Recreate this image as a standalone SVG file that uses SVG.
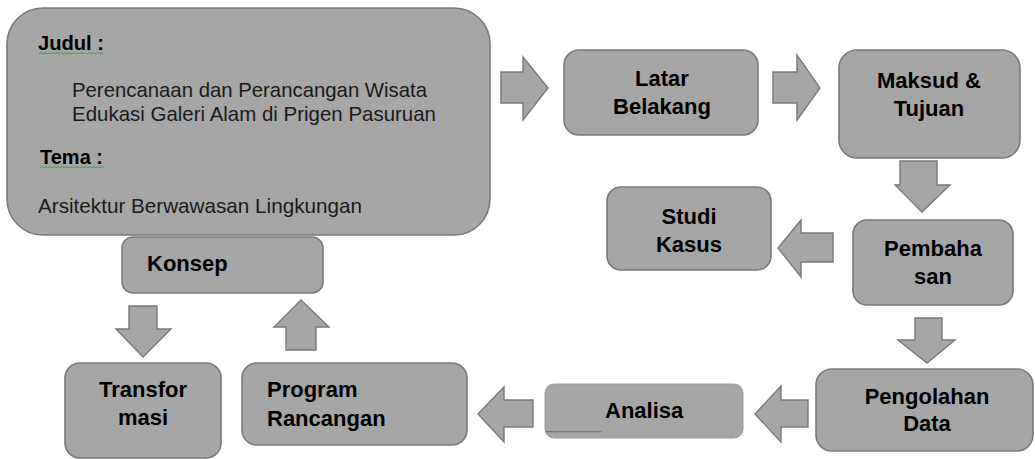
<svg xmlns="http://www.w3.org/2000/svg" width="1035" height="459" viewBox="0 0 1035 459">
<style>
  .box { fill: #a6a6a6; stroke: #7a7a7a; stroke-width: 1.6; }
  .arr { fill: #a6a6a6; stroke: #7a7a7a; stroke-width: 1.4; stroke-linejoin: miter; }
  .lbl { font-family: "Liberation Sans", Arial, sans-serif; font-weight: bold; font-size: 22px; fill: #000; }
  .reg { font-family: "Liberation Sans", Arial, sans-serif; font-size: 21px; fill: #1a1a1a; }
  .hd { font-family: "Liberation Sans", Arial, sans-serif; font-size: 20px; font-weight: bold; fill: #000; }
  .wavy { fill: none; stroke: #3aa83a; stroke-width: 1; }
  .mid { text-anchor: middle; }
</style>
<rect width="1035" height="459" fill="#ffffff"/>

<g id="connectors">
  <polygon class="arr" points="501,72 523,72 523,57 548,88 523,120 523,103 501,103"/>
  <polygon class="arr" points="773,72 797,72 797,55 820,88 797,120 797,103 773,103"/>
  <polygon class="arr" points="900,161 937,161 937,185 950,185 922,212 895,185 900,185"/>
  <polygon class="arr" points="833,233 833,262 801,262 801,277 778,248 801,220 801,233"/>
  <polygon class="arr" points="915,318 942,318 942,340 955,340 927,363 898,340 915,340"/>
  <polygon class="arr" points="808,400 808,427 781,427 781,442 755,414 781,386 781,400"/>
  <polygon class="arr" points="533,400 533,427 504,427 504,442 478,414 504,387 504,400"/>
  <polygon class="arr" points="129,306 157,306 157,329 171,329 143,357 116,329 129,329"/>
  <polygon class="arr" points="286,350 316,350 316,327 329,327 301,300 274,327 286,327"/>
</g>

<g id="judul">
  <rect class="box" x="7" y="8" width="483" height="227" rx="36" ry="36"/>
  <text class="hd" x="38" y="50" textLength="66" lengthAdjust="spacingAndGlyphs">Judul :</text>
  <path class="wavy" d="M39,54 l2,-1.5 l2,1.5 l2,-1.5 l2,1.5 l2,-1.5 l2,1.5 l2,-1.5 l2,1.5 l2,-1.5 l2,1.5 l2,-1.5 l2,1.5 l2,-1.5 l2,1.5 l2,-1.5 l2,1.5 l2,-1.5 l2,1.5 l2,-1.5 l2,1.5 l2,-1.5 l2,1.5 l2,-1.5 l2,1.5 l2,-1.5 l2,1.5 l2,-1.5 l2,1.5 l2,-1.5 l2,1.5 l2,-1.5 l2,1.5"/>
  <text class="reg" x="72" y="97" textLength="355" lengthAdjust="spacingAndGlyphs">Perencanaan dan Perancangan Wisata</text>
  <text class="reg" x="72" y="121" textLength="364" lengthAdjust="spacingAndGlyphs">Edukasi Galeri Alam di Prigen Pasuruan</text>
  <text class="hd" x="40" y="164" textLength="63" lengthAdjust="spacingAndGlyphs">Tema :</text>
  <path class="wavy" d="M40,168 l2,-1.5 l2,1.5 l2,-1.5 l2,1.5 l2,-1.5 l2,1.5 l2,-1.5 l2,1.5 l2,-1.5 l2,1.5 l2,-1.5 l2,1.5 l2,-1.5 l2,1.5 l2,-1.5 l2,1.5 l2,-1.5 l2,1.5 l2,-1.5 l2,1.5 l2,-1.5 l2,1.5 l2,-1.5 l2,1.5 l2,-1.5 l2,1.5 l2,-1.5 l2,1.5 l2,-1.5 l2,1.5 l2,-1.5 l2,1.5"/>
  <text class="reg" x="38" y="213" textLength="324" lengthAdjust="spacingAndGlyphs">Arsitektur Berwawasan Lingkungan</text>
</g>

<g id="latar">
  <rect class="box" x="564" y="50" width="194" height="85" rx="15" ry="15"/>
  <text class="lbl mid" x="662" y="86">Latar</text>
  <text class="lbl mid" x="662" y="114">Belakang</text>
</g>

<g id="maksud">
  <rect class="box" x="839" y="50" width="181" height="108" rx="18" ry="18"/>
  <text class="lbl mid" x="929" y="88">Maksud &amp;</text>
  <text class="lbl mid" x="929" y="116">Tujuan</text>
</g>

<g id="studi">
  <rect class="box" x="607" y="187" width="164" height="83" rx="14" ry="14"/>
  <text class="lbl mid" x="689" y="224">Studi</text>
  <text class="lbl mid" x="689" y="252">Kasus</text>
</g>

<g id="pembahasan">
  <rect class="box" x="853" y="220" width="160" height="85" rx="14" ry="14"/>
  <text class="lbl mid" x="933" y="256">Pembaha</text>
  <text class="lbl mid" x="933" y="284">san</text>
</g>

<g id="pengolahan">
  <rect class="box" x="816" y="369" width="217" height="82" rx="16" ry="16"/>
  <text class="lbl mid" x="927" y="404">Pengolahan</text>
  <text class="lbl mid" x="927" y="431">Data</text>
</g>

<g id="analisa">
  <rect x="545" y="384" width="198" height="54" rx="9" ry="9" fill="#a6a6a6" stroke="#9a9a9a" stroke-width="1"/>
  <text class="reg" x="546" y="428" style="fill:#777777" textLength="55" lengthAdjust="spacingAndGlyphs">______</text>
  <text class="lbl" x="605" y="418">Analisa</text>
</g>

<g id="program">
  <rect class="box" x="242" y="363" width="225" height="82" rx="15" ry="15"/>
  <text class="lbl" x="267" y="397">Program</text>
  <text class="lbl" x="267" y="426">Rancangan</text>
</g>

<g id="transformasi">
  <rect class="box" x="65" y="363" width="156" height="95" rx="15" ry="15"/>
  <text class="lbl mid" x="143" y="397">Transfor</text>
  <text class="lbl mid" x="143" y="425">masi</text>
</g>

<g id="konsep">
  <rect class="box" x="122" y="237" width="201" height="56" rx="11" ry="11"/>
  <text class="lbl" x="147" y="271">Konsep</text>
</g>
</svg>
